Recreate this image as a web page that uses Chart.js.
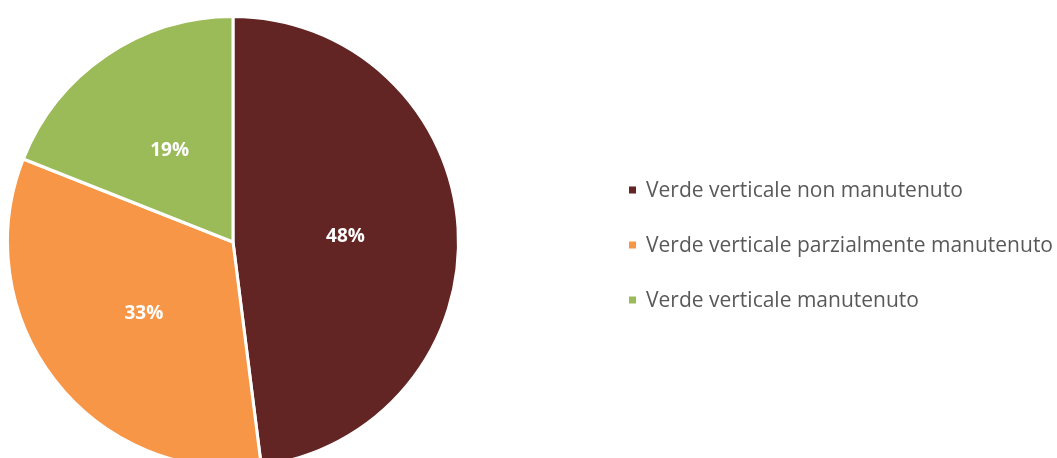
<!DOCTYPE html>
<html>
<head>
<meta charset="utf-8">
<script src="https://cdn.jsdelivr.net/npm/chart.js@4/dist/chart.umd.min.js"></script>
<style>
  html, body { margin: 0; padding: 0; background: #fff; overflow: hidden; }
  #wrap { position: absolute; left: 0; top: 0; width: 1057px; height: 500px; }
</style>
</head>
<body>
<div id="wrap"><canvas id="c" width="1057" height="500"></canvas></div>
<script>
const categories = [
  'Verde verticale non manutenuto',
  'Verde verticale parzialmente manutenuto',
  'Verde verticale manutenuto'
];
const shares = [48, 33, 19];
const sliceColors = ['#632523', '#F79646', '#9BBB59'];

const labelPlugin = {
  id: 'sliceLabels',
  afterDatasetsDraw(chart) {
    const ctx = chart.ctx;
    const meta = chart.getDatasetMeta(0);
    const total = shares.reduce((a, b) => a + b, 0);
    ctx.save();
    ctx.fillStyle = '#ffffff';
    ctx.font = 'bold 19px "Open Sans", "Liberation Sans", sans-serif';
    ctx.textAlign = 'center';
    ctx.textBaseline = 'middle';
    meta.data.forEach((arc, i) => {
      const p = arc.getProps(['x', 'y', 'startAngle', 'endAngle', 'outerRadius'], true);
      const mid = (p.startAngle + p.endAngle) / 2;
      const r = p.outerRadius * 0.5;
      const pct = Math.round(shares[i] / total * 100) + '%';
      ctx.fillText(pct, p.x + Math.cos(mid) * r, p.y + Math.sin(mid) * r + 2);
    });
    ctx.restore();
  }
};

const legendPlugin = {
  id: 'sideLegend',
  afterDraw(chart) {
    const ctx = chart.ctx;
    ctx.save();
    const boxX = 629, boxSize = 7, textX = 646;
    const ys = [190, 245, 300];
    let size = 19;
    const fam = '"Open Sans", "Liberation Sans", sans-serif';
    ctx.font = size + 'px ' + fam;
    const longest = Math.max(...categories.map(t => ctx.measureText(t).width));
    size = size * 407 / longest;
    ctx.font = size.toFixed(2) + 'px ' + fam;
    ctx.textBaseline = 'middle';
    ctx.textAlign = 'left';
    categories.forEach((t, i) => {
      ctx.fillStyle = sliceColors[i];
      ctx.fillRect(boxX, ys[i] - boxSize / 2, boxSize, boxSize);
      ctx.fillStyle = '#595959';
      ctx.fillText(t, textX, ys[i] + 1);
    });
    ctx.restore();
  }
};

new Chart(document.getElementById('c'), {
  type: 'pie',
  data: {
    labels: categories,
    datasets: [{
      data: shares,
      backgroundColor: sliceColors,
      borderColor: '#ffffff',
      borderWidth: 3
    }]
  },
  options: {
    responsive: false,
    animation: false,
    layout: { padding: { left: 6, top: 15, right: 597, bottom: 31 } },
    plugins: {
      legend: { display: false },
      tooltip: { enabled: false }
    }
  },
  plugins: [labelPlugin, legendPlugin]
});
</script>
</body>
</html>
